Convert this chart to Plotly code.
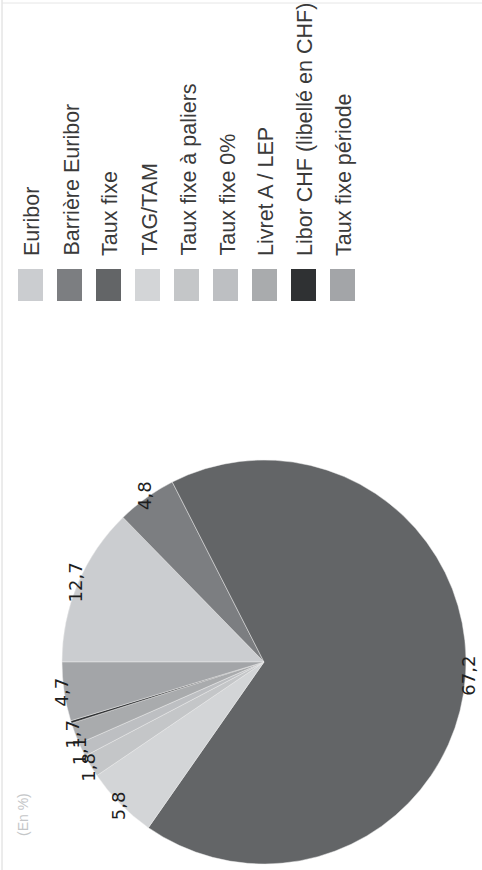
import math
import plotly.graph_objects as go

# ---- data ----
categories = ["Euribor", "Barrière Euribor", "Taux fixe", "TAG/TAM",
              "Taux fixe à paliers", "Taux fixe 0%", "Livret A / LEP",
              "Libor CHF (libellé en CHF)", "Taux fixe période"]
values = [12.7, 4.8, 67.2, 5.8, 1.8, 1.1, 1.7, 0.2, 4.7]
value_labels = ["12,7", "4,8", "67,2", "5,8", "1,8", "1,1", "1,7", "", "4,7"]
colors = ["#cbcdd0", "#7c7e81", "#636567", "#d3d5d7", "#c4c6c8",
          "#bdbfc2", "#a9abad", "#2f3133", "#a3a5a8"]
unit_label = "(En %)"

# ---- layout constants (pixels) ----
W, H = 482, 870
CX, CY, R = 264, 662, 202          # pie centre / radius
ROT = -90                          # first slice starts at 9 o'clock
LABEL_R = R + 3

def px(x):
    return x / W

def py(y):
    return 1 - y / H

fig = go.Figure()
fig.add_trace(go.Pie(
    labels=categories, values=values, sort=False, direction="clockwise",
    rotation=ROT, textinfo="none", hoverinfo="label+value",
    marker=dict(colors=colors, line=dict(color="rgba(235,235,235,0.6)", width=0.8)),
    domain=dict(x=[px(CX - R), px(CX + R)], y=[py(CY + R), py(CY - R)]),
    showlegend=False,
))

annotations = []
shapes = []

# value labels, rotated like the scanned page, positioned from cumulative values
total = sum(values)
cum = 0.0
for v, lab in zip(values, value_labels):
    mid = cum + v / 2
    cum += v
    if not lab:
        continue
    theta = math.radians(ROT + mid / total * 360)
    x = CX + LABEL_R * math.sin(theta)
    y = CY - LABEL_R * math.cos(theta)
    annotations.append(dict(
        x=px(x), y=py(y), xref="paper", yref="paper", text=lab,
        showarrow=False, textangle=-90, xanchor="center", yanchor="middle",
        font=dict(family="DejaVu Sans", size=18, color="#1e1e1e")))

# rotated legend
LEG_X0, LEG_DX = 30.5, 39.0
SW_W, SW_Y0, SW_Y1 = 25, 269, 301
TXT_Y = 258
for i, (name, col) in enumerate(zip(categories, colors)):
    xc = LEG_X0 + i * LEG_DX
    shapes.append(dict(type="rect", xref="paper", yref="paper",
                       x0=px(xc - SW_W / 2), x1=px(xc + SW_W / 2),
                       y0=py(SW_Y1), y1=py(SW_Y0),
                       fillcolor=col, line=dict(width=0)))
    annotations.append(dict(
        x=px(xc + 2), y=py(TXT_Y), xref="paper", yref="paper", text=name,
        showarrow=False, textangle=-90, xanchor="center", yanchor="bottom",
        font=dict(family="Liberation Sans", size=21.5, color="#3a3a3a")))

annotations.append(dict(
    x=px(23), y=py(815), xref="paper", yref="paper", text=unit_label,
    showarrow=False, textangle=-90, xanchor="center", yanchor="middle",
    font=dict(family="Liberation Sans", size=14, color="#c4c6c8")))

# faint page frame
shapes.append(dict(type="line", xref="paper", yref="paper",
                   x0=px(2), x1=px(2), y0=py(870), y1=py(0),
                   line=dict(color="#d8d8d8", width=1)))
shapes.append(dict(type="line", xref="paper", yref="paper",
                   x0=px(2), x1=px(482), y0=py(3), y1=py(3),
                   line=dict(color="#e6e6e6", width=1)))

fig.update_layout(
    width=W, height=H, margin=dict(l=0, r=0, t=0, b=0),
    paper_bgcolor="white", plot_bgcolor="white",
    annotations=annotations, shapes=shapes,
)
fig.write_html("out.html", config={"displayModeBar": False},
               post_script="document.body.style.margin='0';document.body.style.padding='0';")
